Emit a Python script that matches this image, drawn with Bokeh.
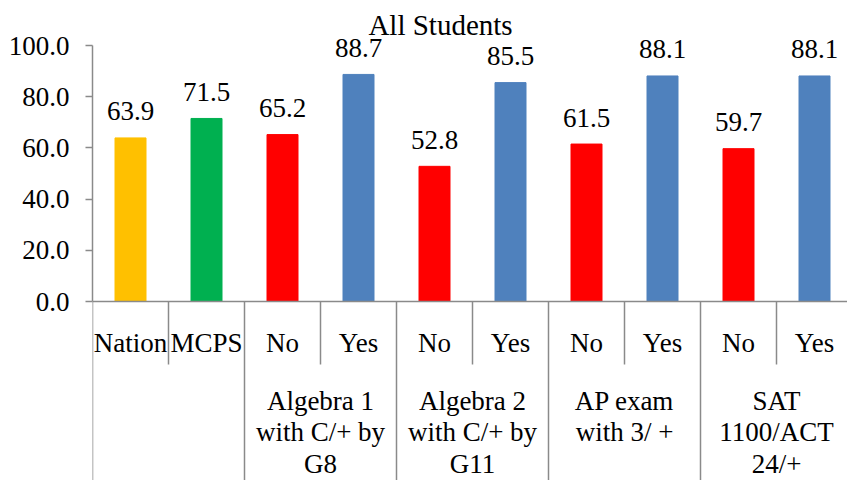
from bokeh.plotting import figure
from bokeh.models import Range1d, FixedTicker, PrintfTickFormatter, ColumnDataSource
from bokeh.core.properties import value
from bokeh.embed import file_html
from bokeh.resources import INLINE

# Chart data
categories = ["Nation", "MCPS", "No", "Yes", "No", "Yes", "No", "Yes", "No", "Yes"]
groups = [
    "Algebra 1\nwith C/+ by\nG8",
    "Algebra 2\nwith C/+ by\nG11",
    "AP exam\nwith 3/ +",
    "SAT\n1100/ACT\n24/+",
]
values = [63.9, 71.5, 65.2, 88.7, 52.8, 85.5, 61.5, 88.1, 59.7, 88.1]
bar_colors = ["#FFC000", "#00B050", "#FF0000", "#4F81BD", "#FF0000",
              "#4F81BD", "#FF0000", "#4F81BD", "#FF0000", "#4F81BD"]
y_ticks = [0, 20, 40, 60, 80, 100]
title_text = "All Students"

# Layout constants (pixels)
W, H = 847, 480
LEFT = 92          # frame left edge (y axis)
SLOT = 76          # width of one category slot
ZERO_PX = 301      # pixel row of y = 0
PX_PER_UNIT = 2.56
FONT = "Liberation Serif"
FONT_SIZE = "27px"
AXIS_COLOR = "#8a8a8a"


def ydata(px):
    return (ZERO_PX - px) / PX_PER_UNIT


def xdata(px):
    return (px - LEFT) / SLOT


p = figure(width=W, height=H, output_backend="svg", toolbar_location=None,
           x_range=Range1d(0, (W - LEFT) / SLOT),
           y_range=Range1d(ydata(H), ydata(0)),
           x_axis_location=None, min_border_left=LEFT, min_border_right=0,
           min_border_top=0, min_border_bottom=0)
p.outline_line_color = None
p.grid.visible = False
p.background_fill_color = "white"
p.border_fill_color = "white"

ax = p.yaxis[0]
ax.bounds = (0, 100)
ax.ticker = FixedTicker(ticks=y_ticks)
ax.formatter = PrintfTickFormatter(format="%.1f")
ax.major_tick_in = 0
ax.major_tick_out = 7
ax.minor_tick_line_color = None
ax.axis_line_color = AXIS_COLOR
ax.axis_line_width = 1.5
ax.major_tick_line_color = AXIS_COLOR
ax.major_tick_line_width = 1.5
ax.major_label_text_font = FONT
ax.major_label_text_font_size = FONT_SIZE
ax.major_label_text_color = "black"
ax.major_label_standoff = 16

xs = [i + 0.5 for i in range(len(categories))]
src = ColumnDataSource(dict(x=xs, top=values, color=bar_colors,
                            label=[f"{v:.1f}" for v in values],
                            ly=[v + 26.5 / PX_PER_UNIT for v in values]))

p.vbar(x="x", top="top", bottom=0, width=31 / SLOT, color="color", source=src)

# value labels above the bars
p.text(x="x", y="ly", text="label", source=src, text_align="center",
       text_baseline="middle", text_font=value(FONT),
       text_font_size=FONT_SIZE, text_color="black")

# category axis: baseline and separators
n = len(categories)
p.segment(x0=[0], y0=[0], x1=[n], y1=[0], line_color=AXIS_COLOR, line_width=1.5)
short_x = [1, 3, 5, 7, 9]
long_x = [0, 2, 4, 6, 8, 10]
p.segment(x0=short_x, y0=[0] * len(short_x), x1=short_x,
          y1=[ydata(364)] * len(short_x), line_color=AXIS_COLOR, line_width=1.5)
p.segment(x0=long_x, y0=[0] * len(long_x), x1=long_x,
          y1=[ydata(H)] * len(long_x), line_color=AXIS_COLOR, line_width=1.5)

# first-level category labels
p.text(x=xs, y=[ydata(342)] * n, text=categories, text_align="center",
       text_baseline="middle", text_font=value(FONT),
       text_font_size=FONT_SIZE, text_color="black")

# group labels centred under each Yes/No pair
gx = [3 + 2 * i for i in range(len(groups))]
p.text(x=gx, y=[ydata(385)] * len(groups), text=groups, text_align="center",
       text_baseline="top", text_font=value(FONT), text_font_size=FONT_SIZE,
       text_line_height=1.06, text_color="black")

# chart title
p.text(x=[xdata(440)], y=[ydata(24)], text=[title_text], text_align="center",
       text_baseline="middle", text_font=value(FONT),
       text_font_size="29px", text_color="black")

open("out.html", "w").write(file_html(p, INLINE))
